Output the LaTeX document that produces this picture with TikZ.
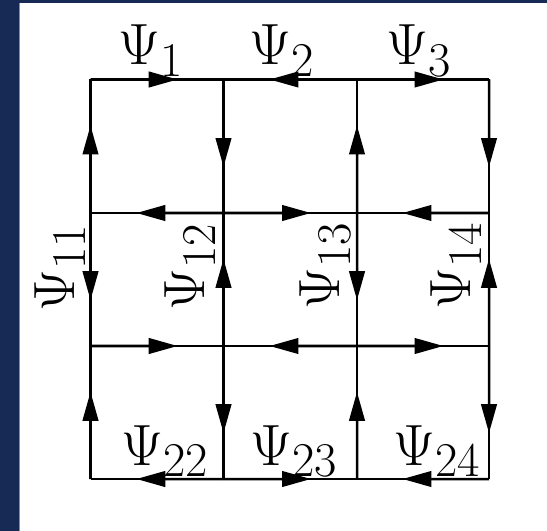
\RequirePackage{fix-cm}
\documentclass[tikz,border=0pt]{standalone}
\usetikzlibrary{arrows.meta,calc}
\DeclareMathSizes{33}{33}{27.5}{22.9}
\definecolor{navy}{HTML}{172A56}
\definecolor{edgeblue}{HTML}{7F8DB0}
\begin{document}
\begin{tikzpicture}[x=0.567pt,y=-0.567pt,
  gridline/.style={line width=1.42pt},
  arr/.style={line width=1.42pt,-{Triangle[length=16.4pt,width=8.8pt]}},
  lab/.style={font=\fontsize{33}{40}\selectfont,inner sep=0pt,anchor=base},
  vlab/.style={lab,rotate=90}]
\useasboundingbox (0,0) rectangle (547,531);
\fill[white] (0,0) rectangle (547,531);
\fill[navy] (0,0) rectangle (19.5,531);
\fill[navy] (0,0) rectangle (547,3);
\draw[edgeblue,line width=0.6pt] (19.8,3) -- (19.8,531);
% grid points g<row><col>
\foreach \r/\yy in {0/79.5,1/213,2/346,3/479}{
  \foreach \c/\xx in {0/90.5,1/223.5,2/357,3/489}{
    \coordinate (g\r\c) at (\xx,\yy);
  }
}
% grid lines
\foreach \r in {0,1,2,3}{
  \draw[gridline] (g\r0) -- (g\r1) -- (g\r2) -- (g\r3);
}
\foreach \c in {0,1,2,3}{
  \draw[gridline] (g0\c) -- (g1\c) -- (g2\c) -- (g3\c);
}
% horizontal arrows
\draw[arr] (g00) -- ($(g00)!0.655!(g01)$);
\draw[arr] (g02) -- ($(g02)!0.655!(g01)$);
\draw[arr] (g02) -- ($(g02)!0.655!(g03)$);
\draw[arr] (g11) -- ($(g11)!0.655!(g10)$);
\draw[arr] (g11) -- ($(g11)!0.655!(g12)$);
\draw[arr] (g13) -- ($(g13)!0.655!(g12)$);
\draw[arr] (g20) -- ($(g20)!0.655!(g21)$);
\draw[arr] (g22) -- ($(g22)!0.655!(g21)$);
\draw[arr] (g22) -- ($(g22)!0.655!(g23)$);
\draw[arr] (g31) -- ($(g31)!0.655!(g30)$);
\draw[arr] (g31) -- ($(g31)!0.655!(g32)$);
\draw[arr] (g33) -- ($(g33)!0.655!(g32)$);
% vertical arrows
\draw[arr] (g10) -- ($(g10)!0.655!(g00)$);
\draw[arr] (g10) -- ($(g10)!0.655!(g20)$);
\draw[arr] (g30) -- ($(g30)!0.655!(g20)$);
\draw[arr] (g01) -- ($(g01)!0.655!(g11)$);
\draw[arr] (g21) -- ($(g21)!0.655!(g11)$);
\draw[arr] (g21) -- ($(g21)!0.655!(g31)$);
\draw[arr] (g12) -- ($(g12)!0.655!(g02)$);
\draw[arr] (g12) -- ($(g12)!0.655!(g22)$);
\draw[arr] (g32) -- ($(g32)!0.655!(g22)$);
\draw[arr] (g03) -- ($(g03)!0.655!(g13)$);
\draw[arr] (g23) -- ($(g23)!0.655!(g13)$);
\draw[arr] (g23) -- ($(g23)!0.655!(g33)$);
% labels
\node[lab] (psi1) at (151,65) {$\Psi_1$};
\node[lab] (psi2) at (282,65) {$\Psi_2$};
\node[lab] (psi3) at (419,65) {$\Psi_3$};
\node[lab] (psi22) at (165,465) {$\Psi_{22}$};
\node[lab] (psi23) at (294,465) {$\Psi_{23}$};
\node[lab] (psi24) at (437,465) {$\Psi_{24}$};
\node[vlab] (psi11) at (74,268) {$\Psi_{11}$};
\node[vlab] (psi12) at (204,266.5) {$\Psi_{12}$};
\node[vlab] (psi13) at (339,266) {$\Psi_{13}$};
\node[vlab] (psi14) at (470,266) {$\Psi_{14}$};
\end{tikzpicture}
\end{document}
